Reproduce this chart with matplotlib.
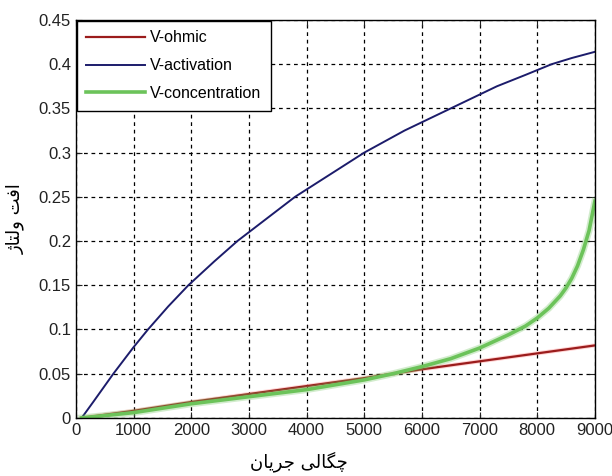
import matplotlib
matplotlib.use("Agg")
import matplotlib.pyplot as plt

# current density (x) and voltage losses
ohmic_x = [100, 1000, 2000, 3000, 4000, 5000, 6000, 7000, 8000, 9000]
ohmic_y = [0.0, 0.008, 0.018, 0.027, 0.036, 0.045, 0.055, 0.064, 0.073, 0.082]

act_x = [100, 300, 650, 1000, 1250, 1600, 1950, 2400, 2800, 3300, 3800,
         4400, 5000, 5700, 6500, 7300, 7800, 8250, 8600, 9000]
act_y = [0.0, 0.018, 0.05, 0.08, 0.1, 0.126, 0.15, 0.177, 0.2, 0.225, 0.25,
         0.275, 0.3, 0.325, 0.35, 0.375, 0.388, 0.4, 0.407, 0.414]

conc_x = [100, 1000, 2000, 3000, 4000, 5000, 5500, 6000, 6500, 7000, 7500,
          7800, 8000, 8200, 8400, 8500, 8600, 8700, 8800, 8900, 9000]
conc_y = [0.0, 0.006, 0.016, 0.024, 0.032, 0.043, 0.05, 0.058, 0.067, 0.079,
          0.094, 0.104, 0.113, 0.124, 0.138, 0.147, 0.158, 0.172, 0.19, 0.212, 0.245]

labels = ['V-ohmic', 'V-activation', 'V-concentration']
xticks = list(range(0, 9001, 1000))
yticks = [0, 0.05, 0.1, 0.15, 0.2, 0.25, 0.3, 0.35, 0.4, 0.45]
ytick_labels = ['0', '0.05', '0.1', '0.15', '0.2', '0.25', '0.3', '0.35', '0.4', '0.45']

# Persian labels, shaped with presentation forms in visual order
xlabel = '\uFEE5\uFE8E\uFBFE\uFEAE\uFE9F \uFBFD\uFEDF\uFE8E\uFB95\uFB7C'   # چگالی جریان
ylabel = '\uFB8A\uFE8E\uFE98\uFEDF\uFEED \uFE96\uFED3\uFE8D'               # افت ولتاژ

plt.rcParams['font.family'] = ['Liberation Sans', 'DejaVu Sans']

fig = plt.figure(figsize=(6.12, 4.76), dpi=100)
ax = fig.add_axes([0.124, 0.122, 0.848, 0.836])

ax.plot(ohmic_x, ohmic_y, color='#ff5050', lw=3, alpha=0.25)
ax.plot(ohmic_x, ohmic_y, color='#9b1c1c', lw=1.6, label=labels[0])
ax.plot(act_x, act_y, color='#1c1c6b', lw=1.4, label=labels[1])
ax.plot(conc_x, conc_y, color='#6cc35a', lw=5, alpha=0.3)
ax.plot(conc_x, conc_y, color='#6cc35a', lw=2.6, label=labels[2])

ax.set_xlim(0, 9000)
ax.set_ylim(0, 0.45)
ax.set_xticks(xticks)
ax.set_yticks(yticks)
ax.set_yticklabels(ytick_labels)
ax.tick_params(direction='in', top=True, right=True, labelsize=12, colors='#222', length=4)
ax.grid(True, color='black', linestyle=(0, (3, 3)), linewidth=0.9)
for s in ax.spines.values():
    s.set_linewidth(1.0)

ax.set_xlabel(xlabel, family=['DejaVu Sans'], fontsize=13, labelpad=10)
ax.xaxis.set_label_coords(0.43, -0.085)
ax.set_ylabel(ylabel, family=['DejaVu Sans'], fontsize=13, labelpad=10)

leg = ax.legend(loc='upper left', fontsize=11.5, fancybox=False, framealpha=1,
                edgecolor='black', handlelength=3.7, borderaxespad=0.05,
                labelspacing=0.8, borderpad=0.6, handletextpad=0.3)
leg.get_frame().set_linewidth(1.0)

fig.savefig('out.png', dpi=100)
